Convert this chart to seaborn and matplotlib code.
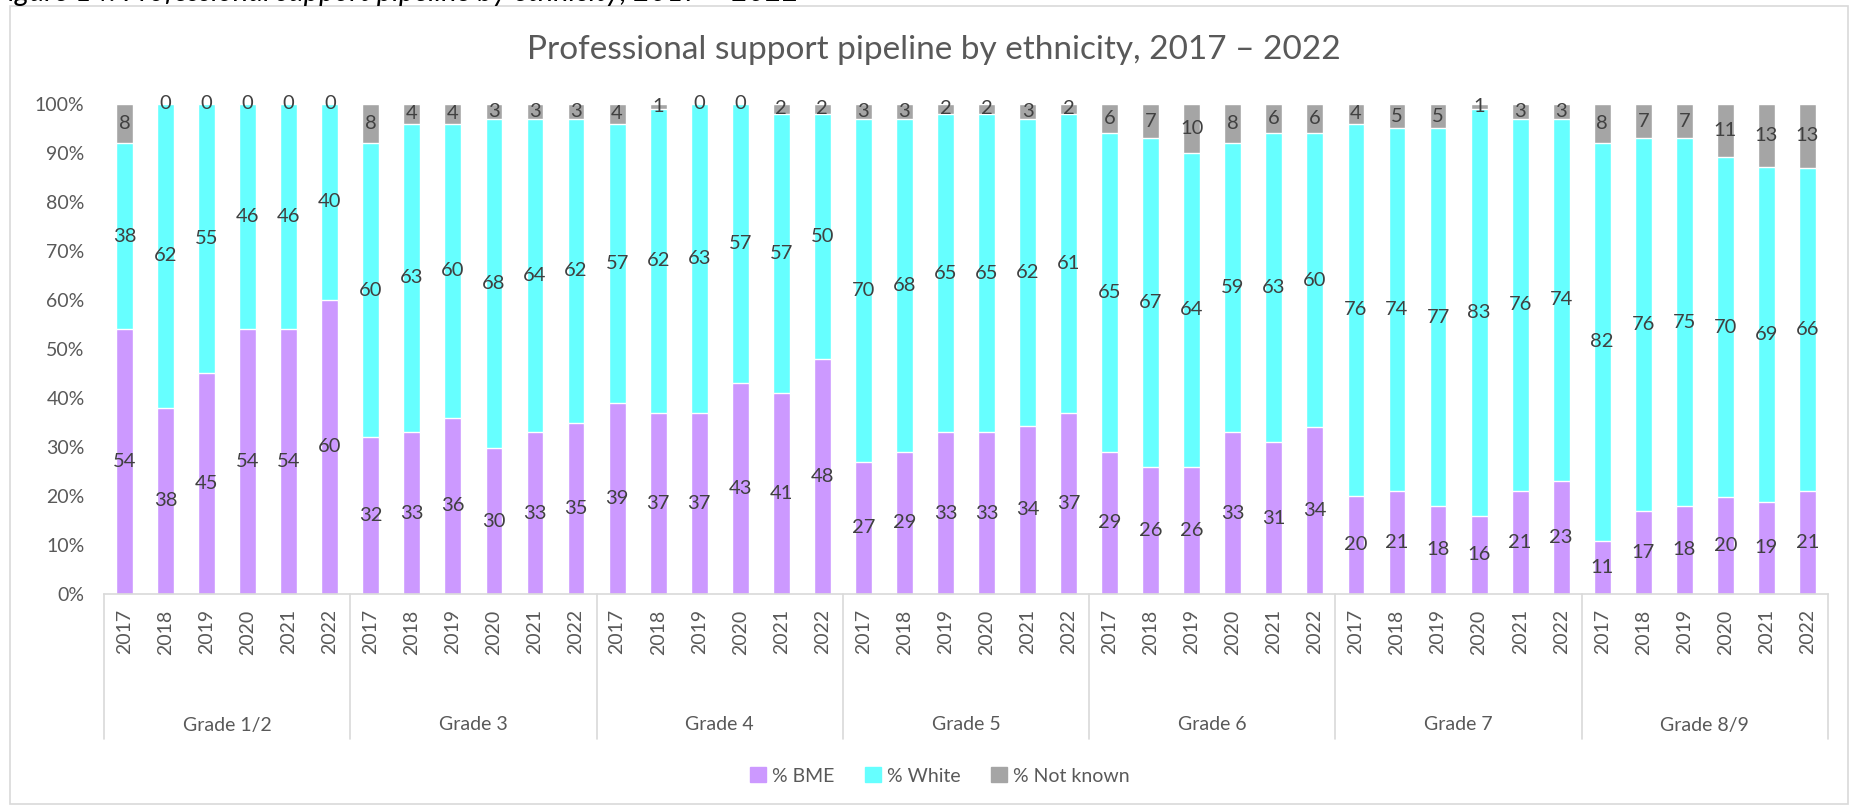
import numpy as np
import pandas as pd
import seaborn as sns
import matplotlib.pyplot as plt
from matplotlib.patches import Patch, Rectangle
import matplotlib.transforms as mtransforms

# data (percent, as labelled)
grades = ['Grade 1/2', 'Grade 3', 'Grade 4', 'Grade 5', 'Grade 6', 'Grade 7', 'Grade 8/9']
years = ['2017', '2018', '2019', '2020', '2021', '2022']

bme = [54, 38, 45, 54, 54, 60,
       32, 33, 36, 30, 33, 35,
       39, 37, 37, 43, 41, 48,
       27, 29, 33, 33, 34, 37,
       29, 26, 26, 33, 31, 34,
       20, 21, 18, 16, 21, 23,
       11, 17, 18, 20, 19, 21]
white = [38, 62, 55, 46, 46, 40,
         60, 63, 60, 68, 64, 62,
         57, 62, 63, 57, 57, 50,
         70, 68, 65, 65, 62, 61,
         65, 67, 64, 59, 63, 60,
         76, 74, 77, 83, 76, 74,
         82, 76, 75, 70, 69, 66]
not_known = [8, 0, 0, 0, 0, 0,
             8, 4, 4, 3, 3, 3,
             4, 1, 0, 0, 2, 2,
             3, 3, 2, 2, 3, 2,
             6, 7, 10, 8, 6, 6,
             4, 5, 5, 1, 3, 3,
             8, 7, 7, 11, 13, 13]

c_bme = '#CC99FF'
c_white = '#66FFFF'
c_nk = '#A5A5A5'
txt = '#595959'
lbl = '#404040'

df = pd.DataFrame({
    'grade': np.repeat(grades, len(years)),
    'year': years * len(grades),
    'bme': bme, 'white': white, 'nk': not_known,
})
df['pos'] = np.arange(len(df))
tot = df[['bme', 'white', 'nk']].sum(axis=1)
# 100% stacked -> normalise each bar
df['p_bme'] = df['bme'] / tot
df['p_white'] = df['white'] / tot
df['p_nk'] = df['nk'] / tot
df['c1'] = df['p_bme']
df['c2'] = df['p_bme'] + df['p_white']
df['c3'] = df['c2'] + df['p_nk']

sns.set_theme(style='white')
plt.rcParams['font.family'] = ['Lato', 'DejaVu Sans']

fig = plt.figure(figsize=(18.54, 8.10), dpi=100)
ax = fig.add_axes([104 / 1854, 1 - 594 / 810, (1828 - 104) / 1854, (594 - 104) / 810])

w = 0.41
sns.barplot(x='pos', y='c3', data=df, color=c_nk, width=w, saturation=1, ax=ax)
sns.barplot(x='pos', y='c2', data=df, color=c_white, width=w, saturation=1, ax=ax)
sns.barplot(x='pos', y='c1', data=df, color=c_bme, width=w, saturation=1, ax=ax)

# data labels at segment centres
for i, r in df.iterrows():
    ax.text(i, r['c1'] / 2, str(r['bme']), ha='center', va='center', fontsize=14.5, color=lbl)
    ax.text(i, (r['c1'] + r['c2']) / 2, str(r['white']), ha='center', va='center', fontsize=14.5, color=lbl)
    ax.text(i, (r['c2'] + r['c3']) / 2, str(r['nk']), ha='center', va='center', fontsize=14.5, color=lbl)

ax.set_xlim(-0.5, len(df) - 0.5)
ax.set_ylim(0, 1)
ax.set_yticks(np.arange(0, 1.01, 0.1))
ax.set_yticklabels([f'{int(round(v * 100))}%' for v in np.arange(0, 1.01, 0.1)])
ax.set_xticks(df['pos'])
ax.set_xticklabels(df['year'], rotation=90, va='top')
ax.tick_params(axis='x', length=0, pad=11, labelsize=14, labelcolor=txt)
ax.tick_params(axis='y', length=0, pad=14, labelsize=14, labelcolor=txt)
ax.set_xlabel('')
ax.set_ylabel('')
for s in ['top', 'right', 'left']:
    ax.spines[s].set_visible(False)
ax.spines['bottom'].set_color('#D9D9D9')
ax.spines['bottom'].set_linewidth(1.2)

# multi-level category axis
trans = mtransforms.blended_transform_factory(ax.transData, ax.transAxes)
sep_bottom = -(739 - 594) / (594 - 104)
for g in range(len(grades) + 1):
    xs = g * len(years) - 0.5
    ax.plot([xs, xs], [0, sep_bottom], transform=trans, color='#D9D9D9', lw=1.2, clip_on=False)
for g, name in enumerate(grades):
    xc = g * len(years) + (len(years) - 1) / 2
    ax.text(xc, -(725 - 594) / (594 - 104), name, transform=trans, ha='center', va='center',
            fontsize=14, color=txt)

fig.text(934 / 1854, 1 - 50 / 810, 'Professional support pipeline by ethnicity, 2017 – 2022',
         ha='center', va='center', fontsize=24, color=txt)

# partial caption cut off at the top of the image
fig.text(-0.004, 1 - 1 / 810, 'Figure 14: Professional support pipeline by ethnicity, 2017 – 2022',
         ha='left', va='baseline', fontsize=21, style='italic', color='black')

handles = [Patch(color=c_bme, label='% BME'), Patch(color=c_white, label='% White'),
           Patch(color=c_nk, label='% Not known')]
fig.legend(handles=handles, loc='center', bbox_to_anchor=(940 / 1854, 1 - 776 / 810), ncol=3,
           frameon=False, fontsize=14, labelcolor=txt, handlelength=0.8, handleheight=0.8,
           handletextpad=0.3, columnspacing=1.6)

fig.patches.append(Rectangle((10 / 1854, 6 / 810), (1848 - 10) / 1854, (804 - 6) / 810,
                             transform=fig.transFigure, fill=False, edgecolor='#D9D9D9', lw=1.2))

fig.savefig('out.png', dpi=100)
